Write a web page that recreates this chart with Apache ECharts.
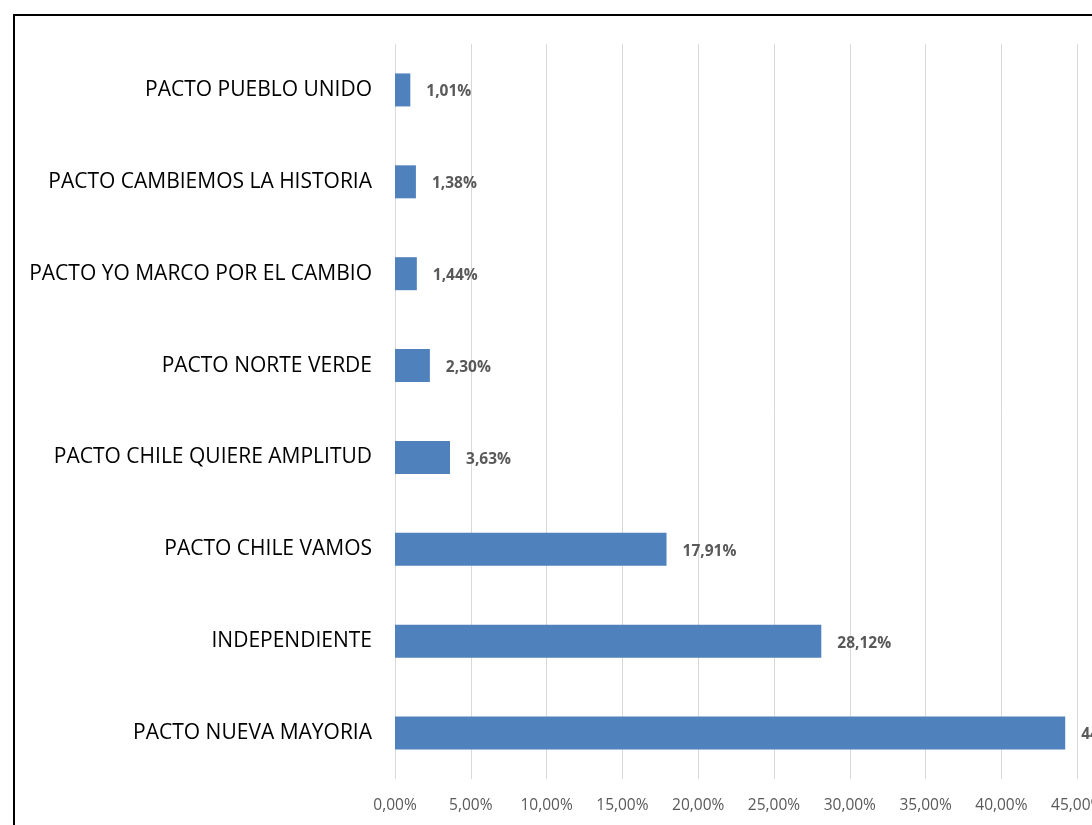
<!DOCTYPE html>
<html>
<head>
<meta charset="utf-8">
<script src="https://cdn.jsdelivr.net/npm/echarts@6/dist/echarts.min.js"></script>
<style>
html,body{margin:0;padding:0;background:#fff;overflow:hidden;width:1092px;height:825px;}
#chart{position:absolute;left:0;top:0;width:1220px;height:900px;}
</style>
</head>
<body>
<div id="chart"></div>
<script>
const categories = [
  "PACTO PUEBLO UNIDO",
  "PACTO CAMBIEMOS LA HISTORIA",
  "PACTO YO MARCO POR EL CAMBIO",
  "PACTO NORTE VERDE",
  "PACTO CHILE QUIERE AMPLITUD",
  "PACTO CHILE VAMOS",
  "INDEPENDIENTE",
  "PACTO NUEVA MAYORIA"
];
const values = [1.01, 1.38, 1.44, 2.30, 3.63, 17.91, 28.12, 44.21];

const fmt = v => v.toFixed(2).replace('.', ',') + '%';

const chart = echarts.init(document.getElementById('chart'), null, {renderer: 'canvas'});
chart.setOption({
  animation: false,
  backgroundColor: '#fff',
  graphic: [{
    type: 'rect',
    shape: {x: 14, y: 15, width: 1400, height: 1000},
    style: {fill: 'none', stroke: '#000', lineWidth: 2},
    z: 100
  }],
  grid: {left: 395, top: 44, width: 758, height: 735, containLabel: false},
  xAxis: {
    type: 'value',
    min: 0, max: 50, interval: 5,
    axisLine: {show: false},
    axisTick: {show: false},
    splitLine: {show: true, lineStyle: {color: '#d9d9d9', width: 1}},
    axisLabel: {
      formatter: v => fmt(v),
      color: '#595959',
      fontSize: 15.5,
      fontFamily: 'Open Sans, sans-serif',
      margin: 19
    }
  },
  yAxis: {
    type: 'category',
    data: categories,
    inverse: true,
    axisLine: {show: false},
    axisTick: {show: false},
    axisLabel: {
      color: '#000',
      fontSize: 21,
      fontFamily: 'Open Sans, sans-serif',
      margin: 23,
      padding: [4, 0, 0, 0]
    }
  },
  series: [{
    type: 'bar',
    data: values,
    barWidth: 33,
    itemStyle: {color: '#4f81bd'},
    label: {
      show: true,
      position: 'right',
      distance: 16,
      offset: [0, 2],
      formatter: p => fmt(p.value),
      color: '#595959',
      fontWeight: 'bold',
      fontSize: 15.5,
      fontFamily: 'Open Sans, sans-serif'
    }
  }]
});
</script>
</body>
</html>
